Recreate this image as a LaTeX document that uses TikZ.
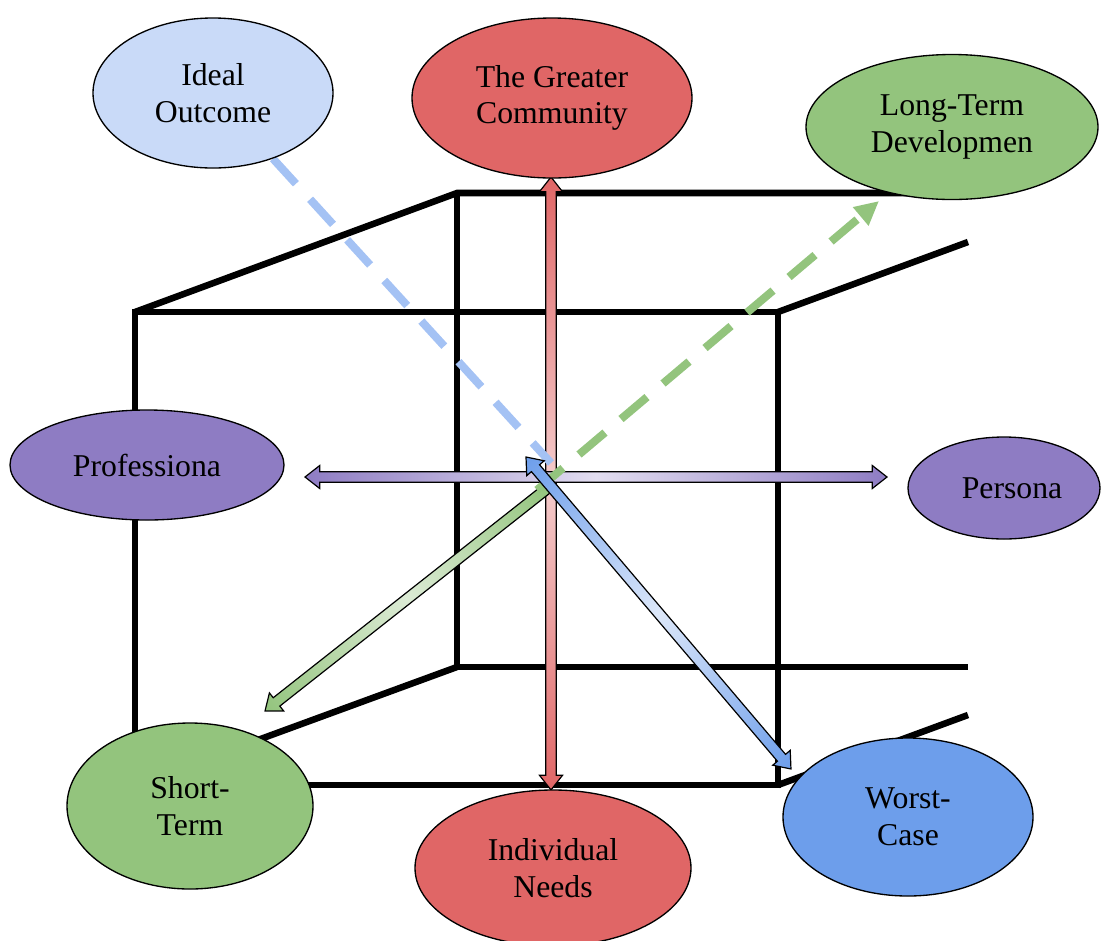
\documentclass[tikz,border=0pt]{standalone}
\usepackage{fontspec}
\setmainfont{Liberation Serif}
\usetikzlibrary{shapes.geometric,arrows.meta}

\definecolor{redE}{HTML}{E06666}
\definecolor{redL}{HTML}{F4CCCC}
\definecolor{greenE}{HTML}{93C47D}
\definecolor{greenL}{HTML}{DCEBD5}
\definecolor{blueE}{HTML}{6D9EEB}
\definecolor{blueL}{HTML}{DCE7F9}
\definecolor{blueP}{HTML}{C9DAF8}
\definecolor{blueD}{HTML}{A4C2F4}
\definecolor{purpE}{HTML}{8E7CC3}
\definecolor{purpL}{HTML}{E2DDF0}

\pgfdeclarelayer{back}
\pgfsetlayers{back,main}

% block arrow geometry: half shaft width, half head width, head length
\def\asw{4pt}
\def\ahw{8.6pt}
\def\ahl{11pt}
\newdimen\arAx \newdimen\arAy \newdimen\arBx \newdimen\arBy
% #1 first end, #2 second end, #3 end colour, #4 middle colour, #5 number of heads
\newcommand\blockarrow[5]{%
  \pgfextractx{\arAx}{\pgfpointanchor{#1}{center}}%
  \pgfextracty{\arAy}{\pgfpointanchor{#1}{center}}%
  \pgfextractx{\arBx}{\pgfpointanchor{#2}{center}}%
  \pgfextracty{\arBy}{\pgfpointanchor{#2}{center}}%
  \pgfmathsetmacro\arAng{atan2(\arBy-\arAy,\arBx-\arAx)}%
  \pgfmathsetmacro\arLen{veclen(\arBx-\arAx,\arBy-\arAy)}%
  \begin{scope}[transform canvas={shift={(\the\arAx,\the\arAy)},rotate=\arAng}]
    \ifnum#5=2
      \shade[arrowskin,left color=#3,right color=#3,middle color=#4]
        (0pt,0pt) -- (\ahl,\ahw) -- (\ahl,\asw) -- (\arLen pt-\ahl,\asw)
        -- (\arLen pt-\ahl,\ahw) -- (\arLen pt,0pt) -- (\arLen pt-\ahl,-\ahw)
        -- (\arLen pt-\ahl,-\asw) -- (\ahl,-\asw) -- (\ahl,-\ahw) -- cycle;
    \else
      \shade[arrowskin,left color=#3,right color=#3,middle color=#4]
        (0pt,\asw) -- (\arLen pt-\ahl,\asw) -- (\arLen pt-\ahl,\ahw)
        -- (\arLen pt,0pt) -- (\arLen pt-\ahl,-\ahw) -- (\arLen pt-\ahl,-\asw)
        -- (0pt,-\asw) -- cycle;
    \fi
  \end{scope}%
}

\begin{document}
\begin{tikzpicture}[x=0.75pt,y=-0.75pt,
  bubble/.style={ellipse,draw=black,line width=1pt,inner sep=0pt,align=center,
    font=\fontsize{23.8}{27.5}\selectfont},
  frame/.style={line width=4.9pt,black},
  arrowskin/.style={draw=black,line width=0.9pt,line join=miter},
  dashlink/.style={line width=6pt,dash pattern=on 25.5pt off 15.75pt}]
\useasboundingbox (0,0) rectangle (1111,940);

% the eight labelled bubbles
\node[bubble,fill=blueP,minimum width=180pt,minimum height=112.5pt] (ideal) at (213,93) {Ideal\\Outcome};
\node[bubble,fill=redE,minimum width=210pt,minimum height=120pt] (greater) at (552,98) {The Greater\\Community};
\node[bubble,fill=greenE,minimum width=219pt,minimum height=108.75pt] (longterm) at (952,127) {Long-Term\\Developmen};
\node[bubble,fill=purpE,minimum width=205.5pt,minimum height=82.5pt] (prof) at (147,465) {Professiona};
\node[bubble,fill=purpE,minimum width=144pt,minimum height=76.5pt] (persona) at (1004,488) {\hspace*{12pt}Persona};
\node[bubble,fill=greenE,minimum width=184.5pt,minimum height=124.5pt] (shortterm) at (190,806) {Short-\\Term};
\node[bubble,fill=redE,minimum width=207pt,minimum height=117pt] (indiv) at (553,868) {Individual\\Needs};
\node[bubble,fill=blueE,minimum width=187.5pt,minimum height=118.5pt] (worst) at (908,817) {Worst-\\Case};

% cube corners
\coordinate (f1) at (135,312);
\coordinate (f2) at (778,312);
\coordinate (f3) at (778,785);
\coordinate (f4) at (135,785);
\coordinate (b1) at (457,193);
\coordinate (b4) at (457,667);
\coordinate (bt) at (968,193);
\coordinate (bb) at (968,667);
\coordinate (d2) at (968,242);
\coordinate (d3) at (968,715);

% arrow ends
\coordinate (redtop) at (551,177);
\coordinate (redbot) at (551,790);
\coordinate (purL) at (305,477);
\coordinate (purR) at (887,477);
\coordinate (grtail) at (549,487);
\coordinate (grtip) at (265,711);
\coordinate (blA) at (526,457);
\coordinate (blB) at (791,769);
\coordinate (hubB) at (551,463);
\coordinate (hubG) at (537,490);
\coordinate (gdtip) at (879,201);

\begin{pgfonlayer}{back}
  % cube frame
  \draw[frame] (f1) rectangle (f3);
  \draw[frame] (f1) -- (b1) -- (bt);
  \draw[frame] (b1) -- (b4) -- (bb);
  \draw[frame] (f4) -- (b4);
  \draw[frame] (f2) -- (d2);
  \draw[frame] (f3) -- (d3);

  % axes through the middle
  \blockarrow{redtop}{redbot}{redE}{redL}{2}
  \blockarrow{purL}{purR}{purpE}{purpL}{2}
  \blockarrow{grtail}{grtip}{greenE}{greenL}{1}

  \draw[dashlink,blueD] (ideal) -- (hubB);
  \draw[dashlink,greenE,-{Triangle[length=18pt,width=17pt]}] (hubG) -- (gdtip);

  \blockarrow{blA}{blB}{blueE}{blueL}{2}
\end{pgfonlayer}
\end{tikzpicture}
\end{document}
